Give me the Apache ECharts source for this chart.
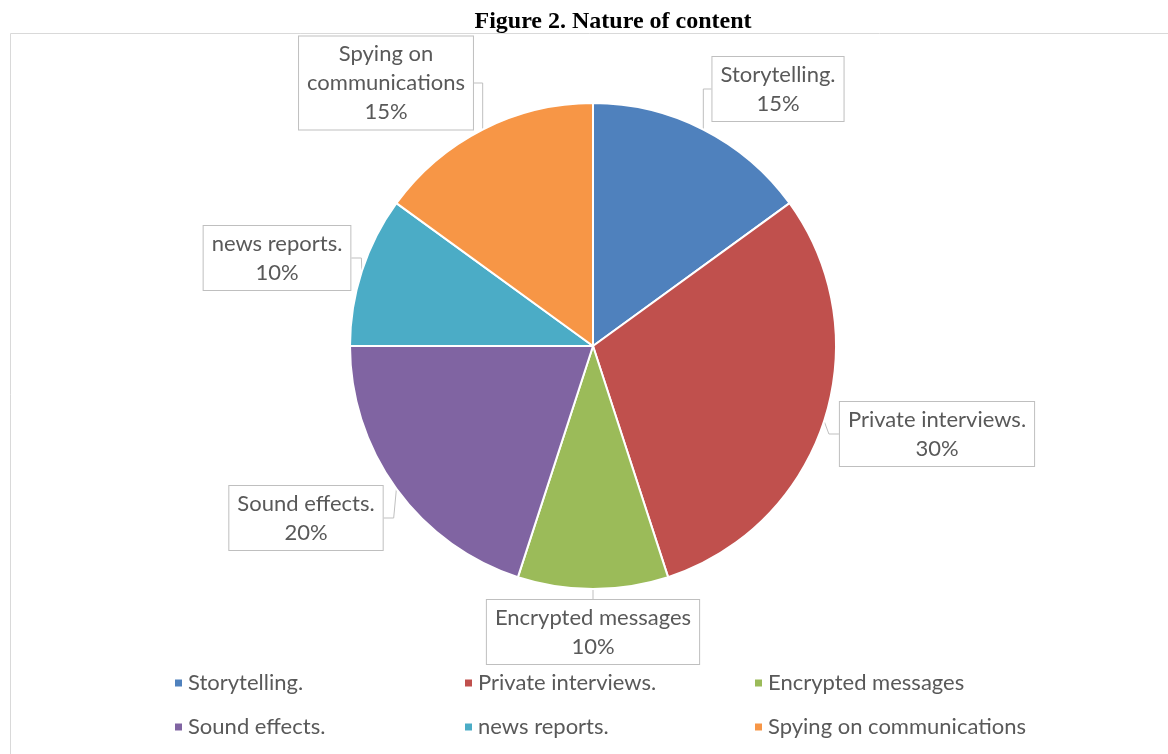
<!DOCTYPE html>
<html><head><meta charset="utf-8">
<script src="https://cdn.jsdelivr.net/npm/echarts@6/dist/echarts.min.js"></script>
<style>html,body{margin:0;padding:0;background:#fff}#c{width:1168px;height:754px}</style>
</head><body><div id="c"></div>
<script>
const categories = ['Storytelling.', 'Private interviews.', 'Encrypted messages', 'Sound effects.', 'news reports.', 'Spying on communications'];
const values = [15, 30, 10, 20, 10, 15];
const labelTexts = ['Storytelling.', 'Private interviews.', 'Encrypted messages', 'Sound effects.', 'news reports.', 'Spying on\ncommunications'];
const colors = ['#4f81bd', '#c0504d', '#9bbb59', '#8064a2', '#4bacc6', '#f79646'];

const labelPos = [[778, 89], [937, 434], [593, 632], [306, 518], [277, 258], [386, 83]];
const legendPos = [[168, 667], [458, 667], [748, 667], [168, 711], [458, 711], [748, 711]];
const font = 'Lato, "Open Sans", sans-serif';
const chart = echarts.init(document.getElementById('c'));
chart.setOption({
  animation: false,
  title: {
    text: 'Figure 2. Nature of content', left: 608, top: 5, textAlign: 'center',
    textStyle: {fontFamily: '"Liberation Serif", serif', fontWeight: 'bold', fontSize: 24, color: '#000'}
  },
  graphic: [{type: 'rect', shape: {x: 10.5, y: 33.5, width: 1170, height: 740}, style: {fill: 'none', stroke: '#d9d9d9', lineWidth: 1}, z: -1}],
  legend: categories.map((c, i) => ({
    data: [c], left: legendPos[i][0], top: legendPos[i][1], icon: 'rect', itemWidth: 9, itemHeight: 9, itemGap: 7,
    textStyle: {fontFamily: font, fontSize: 22, color: '#595959'}, selectedMode: false
  })),
  series: [{
    type: 'pie',
    center: [593, 346], radius: 243,
    startAngle: 90, clockwise: true,
    percentPrecision: 0,
    itemStyle: {borderColor: '#fff', borderWidth: 2},
    data: categories.map((c, i) => ({
      name: c, value: values[i], itemStyle: {color: colors[i]},
      label: {formatter: labelTexts[i] + '\n{d}%'}
    })),
    label: {
      show: true, position: 'outside', fontFamily: font, fontSize: 22, color: '#595959', lineHeight: 29,
      align: 'center', backgroundColor: '#fff', borderColor: '#bfbfbf', borderWidth: 1, padding: [3, 8]
    },
    labelLine: {show: true, length: 10, length2: 10, lineStyle: {color: '#bfbfbf', width: 1}},
    labelLayout: function (p) {
      return {x: labelPos[p.dataIndex][0], y: labelPos[p.dataIndex][1], align: 'center', verticalAlign: 'middle'};
    }
  }]
});
</script></body></html>
